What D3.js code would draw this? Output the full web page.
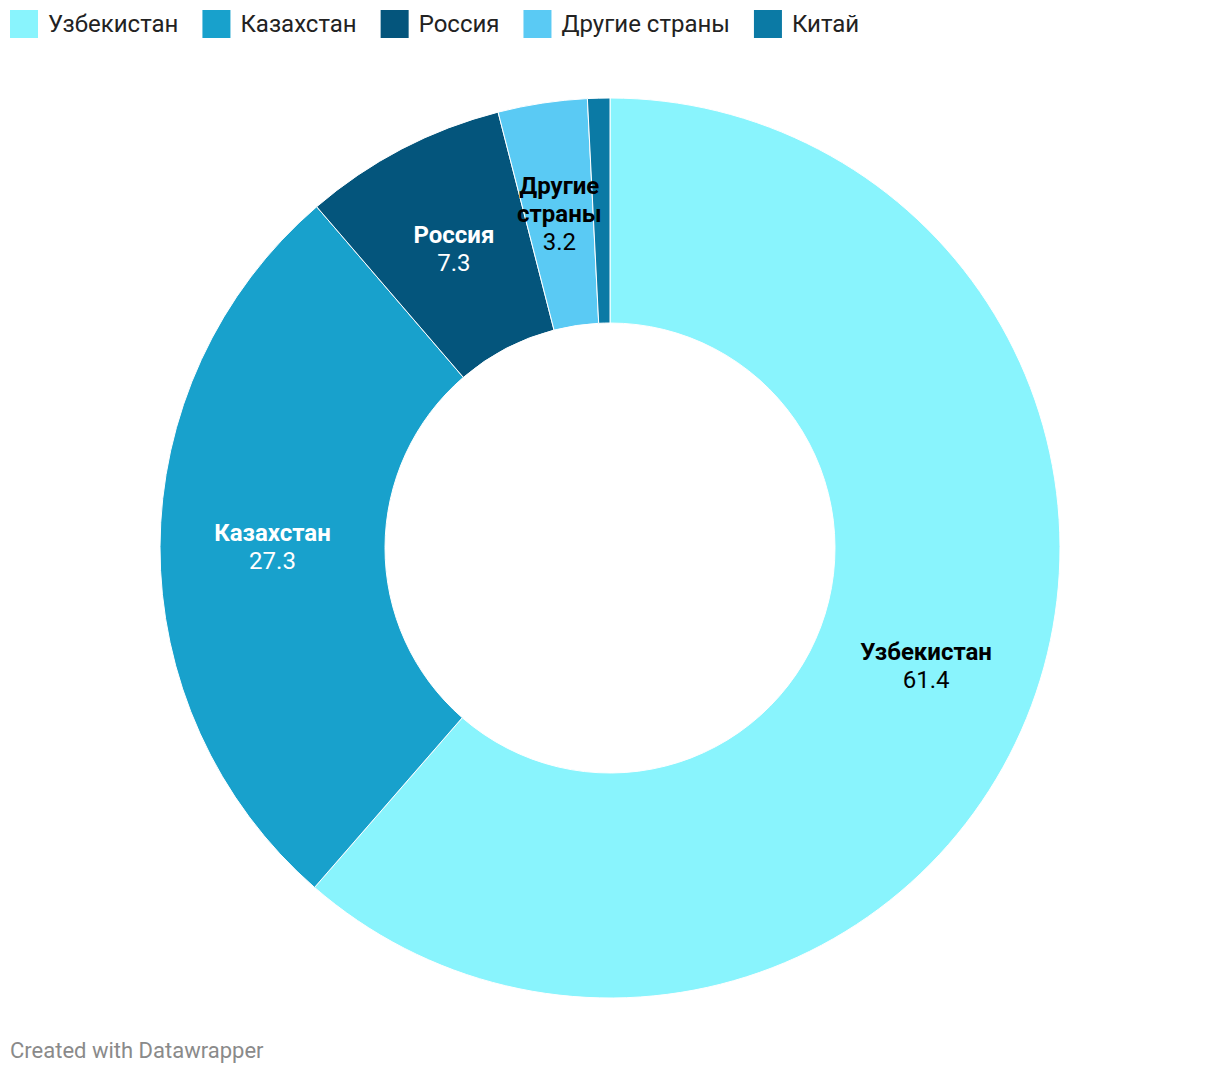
<!DOCTYPE html>
<html><head><meta charset="utf-8">
<script src="https://cdn.jsdelivr.net/npm/d3@7"></script>
<style>
body{margin:0;background:#fff;font-family:Roboto,"Noto Sans",sans-serif;}
</style></head>
<body><svg id="chart" width="1220" height="1074"></svg>
<script>
const categories = ["Узбекистан","Казахстан","Россия","Другие страны","Китай"];
const values = [61.4, 27.3, 7.3, 3.2, 0.8];
const labelLines = [["Узбекистан"],["Казахстан"],["Россия"],["Другие","страны"],[]];
const valueLabels = ["61.4","27.3","7.3","3.2",""];
const colors = ["#89f4fd","#18a1cc","#04557c","#5acaf4","#0b7aa5"];
const textColors = ["#000","#fff","#fff","#000","#000"];

const svg = d3.select("#chart");
const cx = 610, cy = 548, R = 450, r0 = 225;
const data = categories.map((c,i)=>({name:c,value:values[i],i}));
const pie = d3.pie().value(d=>d.value).sort(null);
const arcs = pie(data);
const arc = d3.arc().innerRadius(r0).outerRadius(R);
const labelArc = d3.arc().innerRadius((R+r0)/2).outerRadius((R+r0)/2);
const g = svg.append("g").attr("transform",`translate(${cx},${cy})`);
g.selectAll("path").data(arcs).join("path")
  .attr("d",arc).attr("fill",d=>colors[d.data.i])
  .attr("stroke","#fff").attr("stroke-width",1);

const lh = 28;
arcs.forEach(a=>{
  const i = a.data.i;
  if(!labelLines[i].length) return;
  const [x,y] = labelArc.centroid(a);
  const lines = labelLines[i].map(t=>({t,bold:true})).concat([{t:valueLabels[i],bold:false}]);
  const n = lines.length;
  const t = g.append("text").attr("text-anchor","middle").attr("font-size",24)
    .attr("fill",textColors[i]);
  lines.forEach((l,k)=>{
    t.append("tspan").attr("x",x).attr("y",y+(k-(n-1)/2)*lh+8)
      .attr("font-weight",l.bold?"bold":"normal").text(l.t);
  });
});

// legend
const leg = svg.append("g");
let lx = 10;
categories.forEach((c,i)=>{
  leg.append("rect").attr("x",lx).attr("y",10).attr("width",28).attr("height",28).attr("fill",colors[i]);
  const t = leg.append("text").attr("x",lx+38).attr("y",32).attr("font-size",24).attr("fill","#222").text(c);
  const w = t.node().getComputedTextLength();
  lx += 38 + w + 24;
});

svg.append("text").attr("x",10).attr("y",1058).attr("font-size",22).attr("fill","#8a8a8a").text("Created with Datawrapper");
</script></body></html>
